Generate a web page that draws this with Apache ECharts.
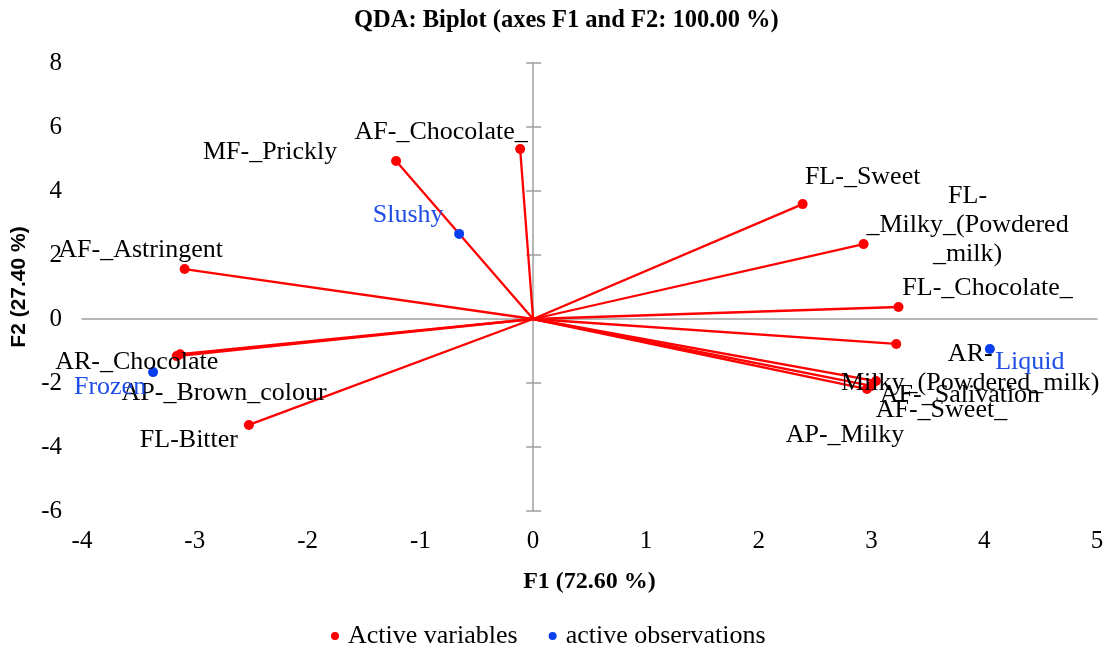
<!DOCTYPE html>
<html>
<head>
<meta charset="utf-8">
<script src="https://cdn.jsdelivr.net/npm/echarts@6/dist/echarts.min.js"></script>
<style>
html,body{margin:0;padding:0;background:#fff;}
#chart{width:1107px;height:649px;}
</style>
</head>
<body>
<div id="chart"></div>
<script>
// ---- data ----
const varNames = ['MF-_Prickly','AF-_Chocolate_','AF-_Astringent','AR-_Chocolate','AP-_Brown_colour','FL-Bitter','FL-_Sweet','FL-\n_Milky_(Powdered\n_milk)','FL-_Chocolate_','AR-\nMilky_(Powdered_milk)','AF-_Salivation','AF-_Sweet_','AP-_Milky'];
const varF1 = [-1.215, -0.115, -3.09, -3.16, -3.13, -2.52, 2.39, 2.93, 3.24, 3.22, 3.04, 3.00, 2.96];
const varF2 = [4.94, 5.31, 1.56, -1.16, -1.10, -3.31, 3.59, 2.34, 0.375, -0.78, -1.94, -2.09, -2.19];
const obsNames = ['Slushy','Frozen','Liquid'];
const obsF1 = [-0.656, -3.37, 4.05];
const obsF2 = [2.66, -1.66, -0.94];
const seriesNames = ['Active variables','active observations'];
const titleText = 'QDA: Biplot (axes F1 and F2: 100.00 %)';
const xName = 'F1 (72.60 %)';
const yName = 'F2 (27.40 %)';

// ---- layout / style (label offsets in pixels, relative to the point) ----
const varLabelOffset = [[-126,-9],[-79,-17],[-44,-19],[-40,6],[44,39],[-60,15],[60,-27],[104,-19],[89,-19],[74,25],[84,14],[70,24],[-22,46]];
const obsLabelOffset = [[-51,-19],[-43,15],[40,13]];
const SERIF = "'Liberation Serif','Times New Roman',serif";
const RED = '#ff0000';
const BLUE = '#0a3ff0';
const AXIS_GRAY = '#a0a0a0';

const chart = echarts.init(document.getElementById('chart'), null, {renderer:'canvas'});

const varData = varNames.map((n,i)=>({name:n, value:[varF1[i], varF2[i]]}));
const obsData = obsNames.map((n,i)=>({name:n, value:[obsF1[i], obsF2[i]]}));
const lineData = varNames.map((n,i)=>({coords:[[0,0],[varF1[i], varF2[i]]]}));

function layoutFor(offsets){
  return function(p){
    const o = offsets[p.dataIndex] || [0,0];
    return {dx:o[0], dy:o[1], hideOverlap:false};
  };
}

const commonX = {type:'value', min:-4, max:5, interval:1, splitLine:{show:false}};
const commonY = {type:'value', min:-6, max:8, interval:2, splitLine:{show:false}};

chart.setOption({
  animation:false,
  backgroundColor:'#fff',
  title:{
    text:titleText, left:349, top:3,
    textStyle:{fontFamily:SERIF, fontWeight:'bold', fontSize:24.5, color:'#000'}
  },
  legend:{
    data:seriesNames, bottom:-5, left:326, icon:'circle',
    itemWidth:16, itemHeight:8, itemGap:31,
    textStyle:{fontFamily:SERIF, fontSize:26, color:'#000'}
  },
  grid:{left:82, right:10, top:63, bottom:138, containLabel:false},
  xAxis:[
    Object.assign({}, commonX, {
      position:'bottom',
      axisLine:{show:false, onZero:false}, axisTick:{show:false},
      axisLabel:{margin:18, fontFamily:SERIF, fontSize:25, color:'#000'},
      name:xName, nameLocation:'middle', nameGap:59,
      nameTextStyle:{fontFamily:SERIF, fontWeight:'bold', fontSize:24, color:'#000'}
    }),
    Object.assign({}, commonX, {
      position:'top',
      axisLine:{show:true, onZero:true, onZeroAxisIndex:0, lineStyle:{color:AXIS_GRAY, width:1.5}},
      axisTick:{show:false}, axisLabel:{show:false}
    })
  ],
  yAxis:[
    Object.assign({}, commonY, {
      position:'left',
      axisLine:{show:false, onZero:false}, axisTick:{show:false},
      axisLabel:{margin:20, fontFamily:SERIF, fontSize:25, color:'#000'},
      name:yName, nameLocation:'middle', nameGap:52,
      nameTextStyle:{fontFamily:"'Liberation Sans',Arial,sans-serif", fontWeight:'bold', fontSize:21, color:'#000'}
    }),
    Object.assign({}, commonY, {
      position:'right',
      axisLine:{show:true, onZero:true, onZeroAxisIndex:0, lineStyle:{color:AXIS_GRAY, width:1.5}},
      axisTick:{show:true, inside:false, length:8, lineStyle:{color:AXIS_GRAY, width:1.5}},
      axisLabel:{show:false}
    }),
    Object.assign({}, commonY, {
      position:'right',
      axisLine:{show:false, onZero:true, onZeroAxisIndex:0},
      axisTick:{show:true, inside:true, length:7, lineStyle:{color:AXIS_GRAY, width:1.5}},
      axisLabel:{show:false}
    })
  ],
  series:[
    {
      type:'lines', coordinateSystem:'cartesian2d', xAxisIndex:0, yAxisIndex:0,
      data:lineData, silent:true, z:2,
      lineStyle:{color:RED, width:2.3, opacity:1, curveness:0},
      symbol:['none','none']
    },
    {
      name:seriesNames[0], type:'scatter', xAxisIndex:0, yAxisIndex:0,
      data:varData, symbol:'circle', symbolSize:10, z:3,
      itemStyle:{color:RED, opacity:1},
      label:{show:true, position:'inside', align:'center', verticalAlign:'middle',
        formatter:p=>p.name, fontFamily:SERIF, fontSize:26, lineHeight:29, color:'#000'},
      labelLayout:layoutFor(varLabelOffset)
    },
    {
      name:seriesNames[1], type:'scatter', xAxisIndex:0, yAxisIndex:0,
      data:obsData, symbol:'circle', symbolSize:10, z:3,
      itemStyle:{color:BLUE, opacity:1},
      label:{show:true, position:'inside', align:'center', verticalAlign:'middle',
        formatter:p=>p.name, fontFamily:SERIF, fontSize:26, lineHeight:29, color:'#1f4ee6'},
      labelLayout:layoutFor(obsLabelOffset)
    }
  ]
});
</script>
</body>
</html>
